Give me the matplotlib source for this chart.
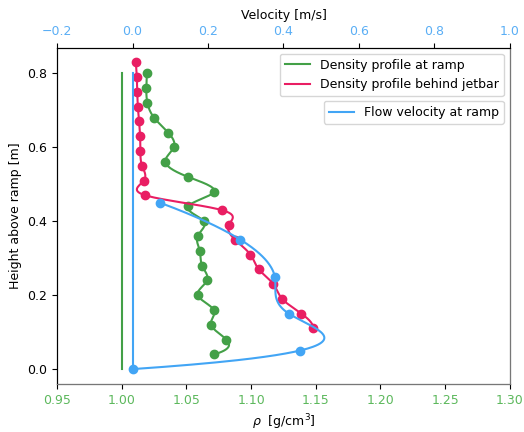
import numpy as np
import matplotlib
matplotlib.use('Agg')
import matplotlib.pyplot as plt

# Density profile at ramp (height [m], rho [g/cm3])
h_ramp = [0.04, 0.08, 0.12, 0.16, 0.20, 0.24, 0.28, 0.32, 0.36, 0.40,
          0.44, 0.48, 0.52, 0.56, 0.60, 0.64, 0.68, 0.72, 0.76, 0.80]
rho_ramp = [1.0716, 1.0808, 1.0690, 1.0711, 1.0587, 1.0659, 1.0621, 1.0603, 1.0587, 1.0633,
            1.0512, 1.0713, 1.0512, 1.0337, 1.0402, 1.0358, 1.0250, 1.0198, 1.0190, 1.0193]

# Density profile behind jetbar
h_jet = [0.11, 0.15, 0.19, 0.23, 0.27, 0.31, 0.35, 0.39, 0.43, 0.47,
         0.51, 0.55, 0.59, 0.63, 0.67, 0.71, 0.75, 0.79, 0.83]
rho_jet = [1.1478, 1.1388, 1.1240, 1.1172, 1.1059, 1.0994, 1.0876, 1.0827, 1.0775, 1.0183,
           1.0170, 1.0157, 1.0144, 1.0141, 1.0134, 1.0124, 1.0120, 1.0116, 1.0108]

# Flow velocity at ramp [m/s]
h_vel = [0.00, 0.05, 0.15, 0.25, 0.35, 0.45]
vel = [0.001, 0.443, 0.414, 0.377, 0.286, 0.073]

green = '#43a047'
pink = '#e91e63'
blue = '#42a5f5'

plt.rcParams['font.size'] = 9


def spline(y, x, n=300):
    # cubic spline (not-a-knot ends) of x as a function of y
    y = np.asarray(y, float)
    x = np.asarray(x, float)
    k = len(y)
    h = np.diff(y)
    A = np.zeros((k, k))
    b = np.zeros(k)
    A[0, 0], A[0, 1], A[0, 2] = h[1], -(h[0] + h[1]), h[0]
    A[-1, -3], A[-1, -2], A[-1, -1] = h[-1], -(h[-2] + h[-1]), h[-2]
    for i in range(1, k - 1):
        A[i, i - 1] = h[i - 1]
        A[i, i] = 2 * (h[i - 1] + h[i])
        A[i, i + 1] = h[i]
        b[i] = 6 * ((x[i + 1] - x[i]) / h[i] - (x[i] - x[i - 1]) / h[i - 1])
    M = np.linalg.solve(A, b)
    yy = np.linspace(y[0], y[-1], n)
    idx = np.clip(np.searchsorted(y, yy) - 1, 0, k - 2)
    t0 = y[idx + 1] - yy
    t1 = yy - y[idx]
    hi = h[idx]
    xx = (M[idx] * t0**3 + M[idx + 1] * t1**3) / (6 * hi) \
        + (x[idx] / hi - M[idx] * hi / 6) * t0 \
        + (x[idx + 1] / hi - M[idx + 1] * hi / 6) * t1
    return xx, yy


fig = plt.figure(figsize=(5.24, 4.32), dpi=100)
ax = fig.add_axes([0.109, 0.111, 0.864, 0.779])
ax2 = ax.twiny()

# reference lines: water density and zero velocity
ax.plot([1.0, 1.0], [0, 0.8], color=green, lw=1.5)
ax2.plot([0, 0], [0, 0.8], color=blue, lw=1.5)

xs, ys = spline(h_ramp, rho_ramp)
l1, = ax.plot(xs, ys, color=green, lw=1.5, label='Density profile at ramp')
ax.plot(rho_ramp, h_ramp, 'o', color=green, ms=6)

xs, ys = spline(h_jet, rho_jet)
l2, = ax.plot(xs, ys, color=pink, lw=1.5, label='Density profile behind jetbar')
ax.plot(rho_jet, h_jet, 'o', color=pink, ms=6)

xs, ys = spline(h_vel, vel)
l3, = ax2.plot(xs, ys, color=blue, lw=1.5, label='Flow velocity at ramp')
ax2.plot(vel, h_vel, 'o', color=blue, ms=6)

ax.set_xlim(0.95, 1.30)
ax2.set_xlim(-0.2, 1.0)
ax.set_ylim(-0.0405, 0.870)

ax.set_xlabel(r'$\rho$  [g/cm$^3$]')
ax.set_ylabel('Height above ramp [m]')
ax2.set_xlabel('Velocity [m/s]')
ax.tick_params(axis='x', labelcolor='#5cb85c')
ax2.tick_params(axis='x', labelcolor='#5aaef5')
for s in ('bottom', 'right'):
    ax2.spines[s].set_color('#777777')

ax.legend(handles=[l1, l2], loc='upper right')
ax2.legend(handles=[l3], loc='upper right', bbox_to_anchor=(1.0, 0.86))

fig.savefig('out.png', dpi=100)
